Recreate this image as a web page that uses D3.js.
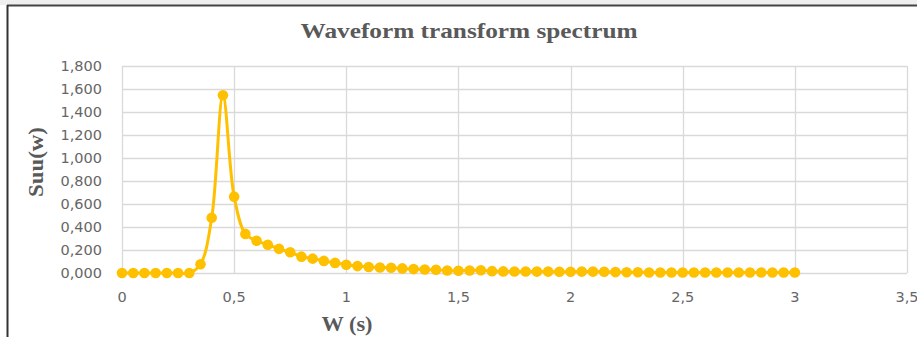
<!DOCTYPE html>
<html>
<head>
<meta charset="utf-8">
<script src="https://cdn.jsdelivr.net/npm/d3@7"></script>
<style>
  html, body { margin: 0; padding: 0; background: #fff; }
  svg { display: block; }
</style>
</head>
<body>
<svg id="chart" width="917" height="337"></svg>
<script>
const title = 'Waveform transform spectrum'
const xTitle = 'W (s)'
const yTitle = 'Suu(w)'

const xValues = [
  0, 0.05, 0.1, 0.15, 0.2, 0.25, 0.3, 0.35, 0.4, 0.45,
  0.5, 0.55, 0.6, 0.65, 0.7, 0.75, 0.8, 0.85, 0.9, 0.95,
  1, 1.05, 1.1, 1.15, 1.2, 1.25, 1.3, 1.35, 1.4, 1.45,
  1.5, 1.55, 1.6, 1.65, 1.7, 1.75, 1.8, 1.85, 1.9, 1.95,
  2, 2.05, 2.1, 2.15, 2.2, 2.25, 2.3, 2.35, 2.4, 2.45,
  2.5, 2.55, 2.6, 2.65, 2.7, 2.75, 2.8, 2.85, 2.9, 2.95,
  3
]
const suuValues = [
  0, 0, 0, 0, 0, 0, 0, 0.076, 0.48, 1.545,
  0.664, 0.34, 0.28, 0.246, 0.21, 0.18, 0.142, 0.125, 0.105, 0.088,
  0.072, 0.06, 0.052, 0.048, 0.046, 0.04, 0.034, 0.03, 0.028, 0.022,
  0.02, 0.022, 0.024, 0.016, 0.014, 0.013, 0.013, 0.012, 0.012, 0.011,
  0.011, 0.012, 0.012, 0.011, 0.008, 0.006, 0.006, 0.005, 0.005, 0.005,
  0.005, 0.005, 0.004, 0.004, 0.004, 0.004, 0.004, 0.004, 0.004, 0.004,
  0.004
]

const xTicks = [0, 0.5, 1, 1.5, 2, 2.5, 3, 3.5]
const xTickLabels = ['0', '0,5', '1', '1,5', '2', '2,5', '3', '3,5']
const yTicks = [0, 0.2, 0.4, 0.6, 0.8, 1, 1.2, 1.4, 1.6, 1.8]
const yTickLabels = ['0,000', '0,200', '0,400', '0,600', '0,800', '1,000', '1,200', '1,400', '1,600', '1,800']

const svg = d3.select('#chart')
const W = 917, H = 337
const plot = { left: 122, right: 907, top: 66, bottom: 273 }

// chart frame
svg.append('rect').attr('x', 0).attr('y', 0).attr('width', W).attr('height', 5).attr('fill', '#efefef')
svg.append('line').attr('x1', 7).attr('x2', W).attr('y1', 5.5).attr('y2', 5.5)
  .attr('stroke', '#444').attr('stroke-width', 2)
svg.append('line').attr('x1', 7.5).attr('x2', 7.5).attr('y1', 5).attr('y2', H)
  .attr('stroke', '#333').attr('stroke-width', 2)

const x = d3.scaleLinear().domain([0, 3.5]).range([plot.left, plot.right])
const y = d3.scaleLinear().domain([0, 1.8]).range([plot.bottom, plot.top])

// grid
svg.append('g')
  .selectAll('line')
  .data(yTicks)
  .enter().append('line')
  .attr('x1', plot.left).attr('x2', plot.right)
  .attr('y1', d => Math.round(y(d)) + 0.5).attr('y2', d => Math.round(y(d)) + 0.5)
  .attr('stroke', '#d9d9d9').attr('stroke-width', 1.3)

svg.append('g')
  .selectAll('line')
  .data(xTicks)
  .enter().append('line')
  .attr('y1', plot.top).attr('y2', plot.bottom)
  .attr('x1', d => Math.round(x(d)) + 0.5).attr('x2', d => Math.round(x(d)) + 0.5)
  .attr('stroke', '#d9d9d9').attr('stroke-width', 1.3)

// tick labels
const tickFont = '"DejaVu Sans", "Open Sans", sans-serif'
svg.append('g')
  .selectAll('text')
  .data(yTicks)
  .enter().append('text')
  .attr('x', plot.left - 20)
  .attr('y', d => y(d) + 5)
  .attr('text-anchor', 'end')
  .attr('font-family', tickFont)
  .attr('font-size', 14.5)
  .attr('fill', '#666')
  .text((d, i) => yTickLabels[i])

svg.append('g')
  .selectAll('text')
  .data(xTicks)
  .enter().append('text')
  .attr('x', d => x(d))
  .attr('y', plot.bottom + 29)
  .attr('text-anchor', 'middle')
  .attr('font-family', tickFont)
  .attr('font-size', 14.5)
  .attr('fill', '#666')
  .text((d, i) => xTickLabels[i])

// titles
const serif = '"Liberation Serif", "DejaVu Serif", serif'
svg.append('text')
  .attr('x', 469).attr('y', 38)
  .attr('text-anchor', 'middle')
  .attr('font-family', serif).attr('font-weight', 'bold')
  .attr('font-size', 21).attr('fill', '#595959')
  .attr('textLength', 337).attr('lengthAdjust', 'spacingAndGlyphs')
  .text(title)

svg.append('text')
  .attr('x', 347).attr('y', 331)
  .attr('text-anchor', 'middle')
  .attr('font-family', serif).attr('font-weight', 'bold')
  .attr('font-size', 20).attr('fill', '#595959')
  .attr('textLength', 51).attr('lengthAdjust', 'spacingAndGlyphs')
  .text(xTitle)

svg.append('text')
  .attr('transform', 'translate(43, 162) rotate(-90)')
  .attr('text-anchor', 'middle')
  .attr('font-family', serif).attr('font-weight', 'bold')
  .attr('font-size', 21).attr('fill', '#595959')
  .attr('textLength', 70).attr('lengthAdjust', 'spacingAndGlyphs')
  .text(yTitle)

// series
const points = xValues.map((v, i) => ({ x: v, y: suuValues[i] }))
const line = d3.line()
  .x(d => x(d.x))
  .y(d => y(d.y))
  .curve(d3.curveCatmullRom.alpha(0.5))

svg.append('path')
  .datum(points)
  .attr('d', line)
  .attr('fill', 'none')
  .attr('stroke', '#ffc000')
  .attr('stroke-width', 3)

svg.append('g')
  .selectAll('circle')
  .data(points)
  .enter().append('circle')
  .attr('cx', d => x(d.x))
  .attr('cy', d => y(d.y))
  .attr('r', 5.3)
  .attr('fill', '#ffc000')
</script>
</body>
</html>
